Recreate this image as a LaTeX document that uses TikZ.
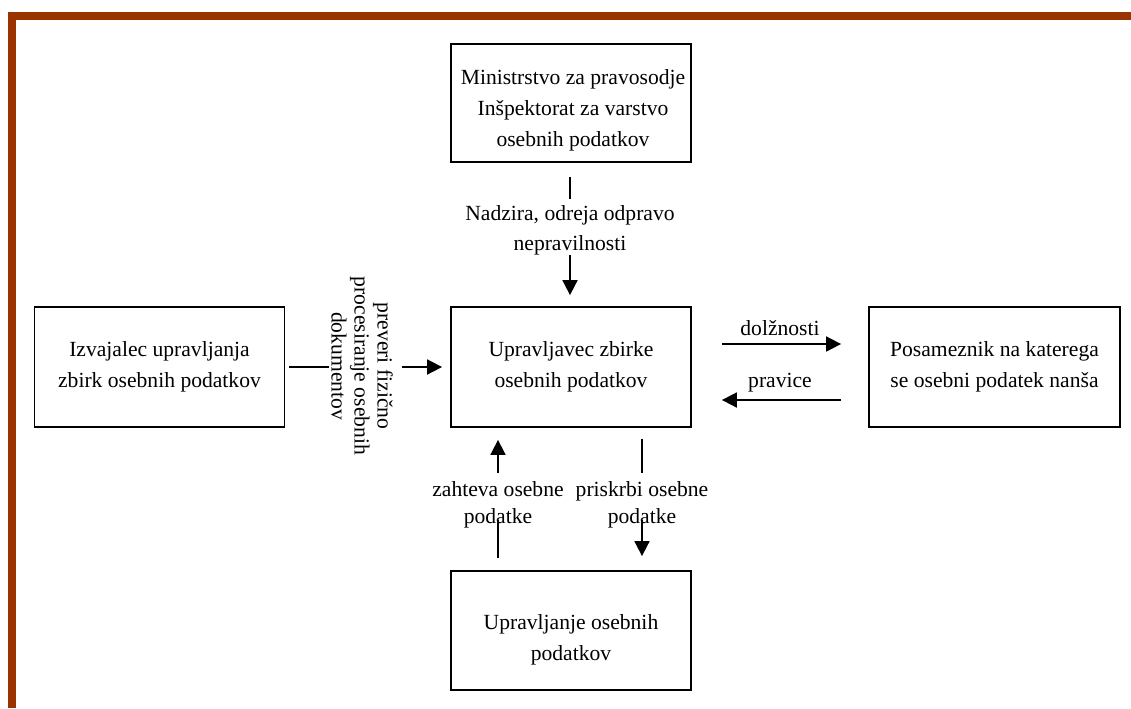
\documentclass[tikz,border=0pt]{standalone}
\usepackage{fontspec}
\setmainfont{Liberation Serif}
\usetikzlibrary{arrows.meta}
\definecolor{frame}{RGB}{153,51,0}

\begin{document}
\begin{tikzpicture}[x=0.5pt,y=-0.5pt]
    \tikzset{every node/.style={inner sep=0pt, align=center, font=\fontsize{10.8}{15.5}\selectfont}}
    \tikzset{box/.style={draw, line width=0.9pt, minimum width=120pt, minimum height=60pt}}
    \tikzset{conn/.style={line width=0.9pt}}
    \tikzset{arr/.style={line width=0.9pt, -{Triangle[length=7.5pt,width=7.5pt]}}}
    \useasboundingbox (0,0) rectangle (1131,708);
    \fill [frame] (8,12) rectangle (1131,20);
    \fill [frame] (8,12) rectangle (16,708);
    \node [box, minimum height=59pt] (mins) at (571,103) {};
    \node (minst) at (573,110) {Ministrstvo za pravosodje\\Inšpektorat za varstvo\\osebnih podatkov};
    \node [box] (upr) at (571,367) {Upravljavec zbirke\\osebnih podatkov};
    \node [box, minimum width=125pt] (izv) at (159.5,367) {Izvajalec upravljanja\\zbirk osebnih podatkov};
    \node [box, minimum width=125.5pt] (pos) at (994.5,367) {Posameznik na katerega\\se osebni podatek nanša};
    \node [box, minimum height=59.5pt] (upo) at (571,630.5) {};
    \node (upot) at (571,640) {Upravljanje osebnih\\podatkov};
    \node [font=\fontsize{10.8}{15}\selectfont] (nadz) at (570,230) {Nadzira, odreja odpravo\\nepravilnosti};
    \coordinate (nadzA) at (570,199);
    \coordinate (nadzB) at (570,255);
    \draw [conn, shorten <=7pt] (mins.south -| nadzA) -- (nadzA);
    \draw [arr, shorten >=5.5pt] (nadzB) -- (upr.north -| nadzB);
    \node [rotate=-90, font=\fontsize{10.8}{11.5}\selectfont] (prev) at (362,366) {preveri fizično\\procesiranje osebnih\\dokumentov};
    \coordinate (prevA) at (329,367);
    \coordinate (prevB) at (402,367);
    \draw [conn, shorten <=2pt] (izv.east) -- (prevA);
    \draw [arr, shorten >=4pt] (prevB) -- (upr.west);
    \draw [arr, shorten <=15pt, shorten >=13.5pt] ([yshift=11.5pt]upr.east) -- node [above=3.5pt] (dolz) {dolžnosti} ([yshift=11.5pt]pos.west);
    \draw [arr, shorten <=13.5pt, shorten >=15pt] ([yshift=-16.5pt]pos.west) -- node [above=3.5pt] (prav) {pravice} ([yshift=-16.5pt]upr.east);
    \node [font=\fontsize{10.8}{13.5}\selectfont] (zah) at (498,504.5) {zahteva osebne\\podatke};
    \node [font=\fontsize{10.8}{13.5}\selectfont] (pri) at (642,504.5) {priskrbi osebne\\podatke};
    \coordinate (zahA) at (498,520);
    \coordinate (zahB) at (498,473);
    \coordinate (priA) at (642,473);
    \coordinate (priB) at (642,520);
    \draw [conn, shorten <=6pt] (upo.north -| zahA) -- (zahA);
    \draw [arr, shorten >=6pt] (zahB) -- (upr.south -| zahB);
    \draw [conn, shorten <=5.5pt] (upr.south -| priA) -- (priA);
    \draw [arr, shorten >=7pt] (priB) -- (upo.north -| priB);
\end{tikzpicture}
\end{document}
